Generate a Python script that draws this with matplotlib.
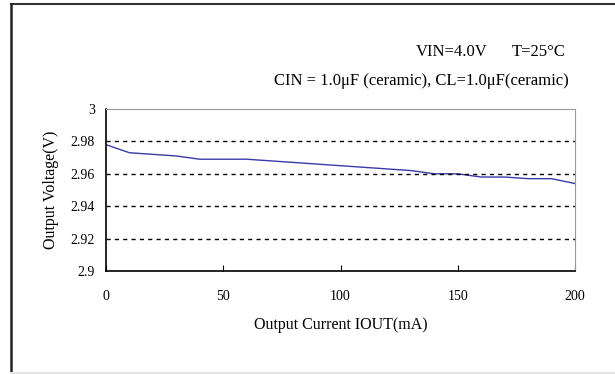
import numpy as np
import matplotlib
matplotlib.use("Agg")
import matplotlib.pyplot as plt
from matplotlib.lines import Line2D

# data
iout = [0, 10, 20, 30, 40, 50, 60, 70, 80, 90, 100,
        110, 120, 130, 140, 150, 160, 170, 180, 190, 200]
vout = [2.978, 2.973, 2.972, 2.971, 2.969, 2.969, 2.969, 2.968, 2.967, 2.966, 2.965,
        2.964, 2.963, 2.962, 2.960, 2.960, 2.958, 2.958, 2.957, 2.957, 2.954]
x_ticks = [0, 50, 100, 150, 200]
y_ticks = [2.9, 2.92, 2.94, 2.96, 2.98, 3.0]
y_labels = ["2.9", "2.92", "2.94", "2.96", "2.98", "3"]

plt.rcParams['font.family'] = ['Liberation Serif', 'DejaVu Serif']

fig = plt.figure(figsize=(6.15, 3.74), dpi=100)

# outer frame: only top and left edges show in the reference
fx, fy = 11 / 615, 1 - 4 / 374
fig.lines.append(Line2D([fx, 1.0], [fy, fy], transform=fig.transFigure,
                        color='#333333', linewidth=1.5))
fig.lines.append(Line2D([fx, fx], [0, fy], transform=fig.transFigure,
                        color='#222222', linewidth=1.8))
fig.lines.append(Line2D([fx, 1.0], [1 / 374, 1 / 374], transform=fig.transFigure,
                        color='#e6e6e6', linewidth=1.5))

ax = fig.add_axes([106 / 615, 1 - 271 / 374, 469 / 615, 162 / 374])
ax.plot(iout, vout, color='#3a3aa8', linewidth=1.0)

for v in y_ticks[1:-1]:
    ax.axhline(v, color='black', linestyle=(0, (3, 3)), linewidth=1.0)

ax.set_xlim(0, 200)
ax.set_ylim(2.9, 3.0)
ax.set_xticks(x_ticks)
ax.set_yticks(y_ticks)
ax.set_yticklabels(y_labels)
ax.tick_params(axis='x', direction='in', length=4, pad=14, labelsize=10)
ax.tick_params(axis='y', length=0, pad=8, labelsize=10)

for side in ['top', 'right']:
    ax.spines[side].set_color('#999999')
for side in ['left', 'bottom']:
    ax.spines[side].set_color('black')
    ax.spines[side].set_linewidth(1.2)

ax.set_xlabel("Output Current IOUT(mA)", fontsize=11.5, labelpad=10)
ax.set_ylabel("Output Voltage(V)", fontsize=11.5, labelpad=8)

fig.text(416 / 615, 1 - 52 / 374, "VIN=4.0V", fontsize=12, va='center')
fig.text(566 / 615, 1 - 52 / 374, "T=25°C", fontsize=12, va='center', ha='right')
fig.text(569 / 615, 1 - 81 / 374, "CIN = 1.0μF (ceramic), CL=1.0μF(ceramic)",
         fontsize=12, va='center', ha='right')

fig.savefig("out.png", dpi=100)
